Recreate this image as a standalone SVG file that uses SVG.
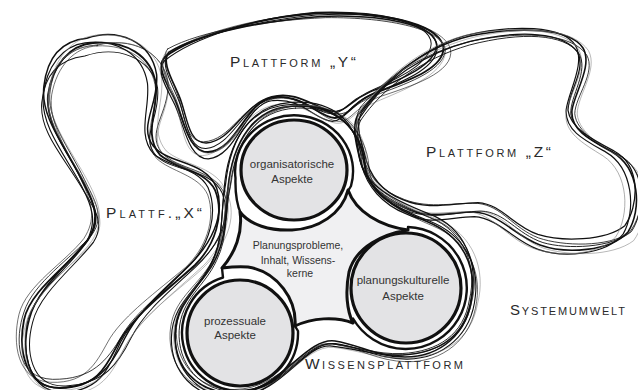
<svg xmlns="http://www.w3.org/2000/svg" xmlns:xlink="http://www.w3.org/1999/xlink" width="638" height="390" viewBox="0 0 638 390">
<style>
.sk{fill:none;stroke:#111;stroke-linecap:round;stroke-linejoin:round}
.lt{stroke:#777}
.circ{fill:#e3e3e5;stroke:#111;stroke-width:3.2}
.ring{fill:none;stroke:#111;stroke-width:2.4;stroke-linecap:round;stroke-linejoin:round}
.core{fill:#f0f0f2;stroke:#111;stroke-width:3;stroke-linejoin:round}
.lbl{font-family:"Liberation Sans",Arial,sans-serif;font-variant:small-caps;fill:#2a2a2a}
.ctx{font-family:"Liberation Sans",Arial,sans-serif;font-size:11.5px;fill:#333;text-anchor:middle}
.stx{font-family:"Liberation Sans",Arial,sans-serif;font-size:10.5px;fill:#333;text-anchor:middle}
</style>
<defs>
<path id="pX" d="M 93,43 C 125,40 152,55 156,85 C 158,110 143,135 160,155 C 175,168 205,170 215,190 C 225,215 215,245 195,265 C 165,292 135,315 120,340 C 108,362 100,388 60,388 C 25,388 18,350 24,320 C 30,290 70,265 88,240 C 100,220 95,205 85,185 C 70,155 45,125 48,95 C 52,65 70,45 93,43 Z"/>
<path id="pX2" d="M 90,46 C 122,36 155,50 160,82 C 162,112 140,132 156,152 C 172,170 208,166 219,193 C 228,220 212,248 190,268 C 160,295 138,312 124,338 C 110,365 96,384 58,385 C 22,385 20,345 28,318 C 36,288 72,262 91,238 C 104,218 92,202 82,182 C 66,150 42,122 46,92 C 50,62 66,48 90,46 Z"/>
<path id="pY" d="M 165,57 C 195,35 260,17 320,13 C 380,12 435,22 443,45 C 448,68 405,82 375,93 C 352,102 348,118 335,118 C 318,117 305,95 275,97 C 245,100 238,150 208,152 C 188,152 184,120 175,100 C 168,85 155,67 165,57 Z"/>
<path id="pY2" d="M 168,52 C 200,32 265,20 322,16 C 385,14 440,26 440,48 C 438,70 400,84 372,96 C 350,106 350,114 338,116 C 322,118 300,92 272,100 C 242,108 232,146 205,148 C 186,148 186,118 178,98 C 172,82 160,62 168,52 Z"/>
<path id="pZ" d="M 358,115 C 380,85 420,48 470,36 C 520,26 570,28 583,48 C 593,65 575,92 572,110 C 570,130 590,140 612,152 C 640,168 642,210 628,232 C 610,252 565,254 540,245 C 515,236 500,214 475,212 C 450,212 430,220 405,208 C 380,198 365,180 360,160 C 355,140 352,125 358,115 Z"/>
<path id="pZ2" d="M 362,112 C 385,80 425,52 472,40 C 525,28 566,32 580,52 C 590,70 570,95 570,113 C 572,132 596,145 616,156 C 644,172 640,214 626,234 C 606,250 562,250 538,242 C 512,232 502,210 478,208 C 452,208 428,216 402,204 C 378,194 368,176 364,156 C 358,136 356,122 362,112 Z"/>
<path id="pW" d="M 294,106 C 336,104 362,130 365,165 C 367,192 393,208 428,222 C 462,236 476,265 472,296 C 468,334 440,357 405,357 C 378,357 360,345 335,341 C 305,337 280,392 234,393 C 196,393 174,366 175,333 C 176,300 200,288 214,262 C 226,240 225,218 228,190 C 232,140 255,107 294,106 Z"/>
<path id="pW2" d="M 296,108 C 338,106 360,128 362,160 C 365,190 398,205 430,218 C 466,232 478,268 470,300 C 464,336 438,352 402,354 C 376,355 358,347 332,344 C 303,341 284,390 236,391 C 198,392 176,362 178,330 C 180,298 204,286 216,260 C 228,236 224,214 230,186 C 236,138 258,110 296,108 Z"/>
</defs>
<rect width="638" height="390" fill="#fff"/>

<g id="plattform-x">
<use xlink:href="#pX" class="sk" stroke-width="1.8"/>
<use xlink:href="#pX2" class="sk" stroke-width="0.8" transform="translate(2,-2) rotate(2,110,215) translate(110,215) scale(1.03,0.99) translate(-110,-215)"/>
<use xlink:href="#pX" class="sk" stroke-width="1.2" transform="translate(-3,1) rotate(-1.8,110,215) translate(110,215) scale(0.97,1.01) translate(-110,-215)"/>
<use xlink:href="#pX2" class="sk lt" stroke-width="0.5" transform="translate(4,3) rotate(0.8,110,215) translate(110,215) scale(1.05,1.02) translate(-110,-215)"/>
<use xlink:href="#pX2" class="sk" stroke-width="1.5" transform="translate(-1,-3) rotate(-0.8,110,215) translate(110,215) scale(0.99,1.03) translate(-110,-215)"/>
<use xlink:href="#pX" class="sk" stroke-width="0.6" transform="translate(-4,0) rotate(2.5,110,215) translate(110,215) scale(0.96,0.98) translate(-110,-215)"/>
<use xlink:href="#pX2" class="sk" stroke-width="1" transform="translate(2,4) rotate(-2.4,110,215) translate(110,215) scale(1.02,0.97) translate(-110,-215)"/>
<use xlink:href="#pX" class="sk lt" stroke-width="0.5" transform="translate(5,-1) rotate(-0.5,110,215) translate(110,215) scale(1.04,1.04) translate(-110,-215)"/>
<text class="lbl" x="106" y="218" font-size="15.5" textLength="96" lengthAdjust="spacing">Plattf.„X“</text>
</g>

<g id="plattform-y">
<use xlink:href="#pY" class="sk" stroke-width="1.8"/>
<use xlink:href="#pY2" class="sk" stroke-width="0.8" transform="translate(2,-1) rotate(1.2,300,70) translate(300,70) scale(1.02,0.96) translate(-300,-70)"/>
<use xlink:href="#pY" class="sk" stroke-width="1.2" transform="translate(-3,2) rotate(-1,300,70) translate(300,70) scale(0.98,1.04) translate(-300,-70)"/>
<use xlink:href="#pY2" class="sk lt" stroke-width="0.5" transform="translate(1,4) rotate(0.6,300,70) translate(300,70) scale(1.03,1.06) translate(-300,-70)"/>
<use xlink:href="#pY2" class="sk" stroke-width="1.5" transform="translate(-1,-2) rotate(-0.6,300,70) translate(300,70) scale(0.985,0.95) translate(-300,-70)"/>
<use xlink:href="#pY" class="sk" stroke-width="0.6" transform="translate(4,1) rotate(1.5,300,70) translate(300,70) scale(1.02,1.03) translate(-300,-70)"/>
<use xlink:href="#pY2" class="sk" stroke-width="1" transform="translate(-4,-1) rotate(-1.5,300,70) translate(300,70) scale(0.97,0.99) translate(-300,-70)"/>
<text class="lbl" x="230" y="67" font-size="15.5" textLength="126" lengthAdjust="spacing">Plattform „Y“</text>
</g>

<g id="plattform-z">
<use xlink:href="#pZ" class="sk" stroke-width="1.6"/>
<use xlink:href="#pZ2" class="sk" stroke-width="0.8" transform="translate(2,-2) rotate(1.5,500,140) translate(500,140) scale(1.03,0.97) translate(-500,-140)"/>
<use xlink:href="#pZ" class="sk" stroke-width="1.2" transform="translate(-3,2) rotate(-1.2,500,140) translate(500,140) scale(0.97,1.03) translate(-500,-140)"/>
<use xlink:href="#pZ2" class="sk lt" stroke-width="0.5" transform="translate(4,1) rotate(0.8,500,140) translate(500,140) scale(1.04,1.04) translate(-500,-140)"/>
<use xlink:href="#pZ2" class="sk" stroke-width="1.3" transform="translate(-1,-3) rotate(-0.7,500,140) translate(500,140) scale(0.99,0.96) translate(-500,-140)"/>
<use xlink:href="#pZ" class="sk lt" stroke-width="0.6" transform="translate(-4,0) rotate(2,500,140) translate(500,140) scale(0.96,1.01) translate(-500,-140)"/>
<use xlink:href="#pZ2" class="sk" stroke-width="0.9" transform="translate(1,3) rotate(-2,500,140) translate(500,140) scale(1.01,0.99) translate(-500,-140)"/>
<text class="lbl" x="426" y="157" font-size="15.5" textLength="125" lengthAdjust="spacing">Plattform „Z“</text>
</g>

<g id="wissensplattform">
<ellipse class="circ" cx="294" cy="170" rx="53" ry="50"/>
<circle class="circ" cx="240" cy="333" r="53"/>
<circle class="circ" cx="406" cy="288" r="55"/>
<path class="ring" d="M 241,214 C 237,205 235,195 235.5,178 A 59 56 0 1 1 351,186 L 348,191"/>
<path class="ring" d="M 222,268 Q 222.5,273 223,277.5 A 58 58 0 1 0 298,331 L 295,326"/>
<path class="ring" d="M 408,230 L 408,227 A 61 61 0 1 1 353,318.5 L 353,323"/>
<use xlink:href="#pW" class="sk" stroke-width="1.6"/>
<use xlink:href="#pW2" class="sk" stroke-width="0.7" transform="translate(1,-1) rotate(0.8,320,250) translate(320,250) scale(1.01,1.005) translate(-320,-250)"/>
<use xlink:href="#pW" class="sk" stroke-width="1.1" transform="translate(-1,1) rotate(-0.7,320,250) translate(320,250) scale(1.025,1.02) translate(-320,-250)"/>
<use xlink:href="#pW2" class="sk lt" stroke-width="0.5" transform="translate(2,1) rotate(0.4,320,250) translate(320,250) scale(1.04,1.025) translate(-320,-250)"/>
<use xlink:href="#pW2" class="sk" stroke-width="1.2" transform="translate(-2,-1) rotate(-1,320,250) translate(320,250) scale(1.015,1.035) translate(-320,-250)"/>
<use xlink:href="#pW" class="sk" stroke-width="0.6" transform="translate(1,2) rotate(1.1,320,250) translate(320,250) scale(1.03,1.01) translate(-320,-250)"/>
<use xlink:href="#pW2" class="sk" stroke-width="0.9" transform="translate(0,0) rotate(-0.3,320,250) translate(320,250) scale(0.995,1.0) translate(-320,-250)"/>
<text class="lbl" x="305" y="369" font-size="15.5" textLength="158" lengthAdjust="spacing">Wissensplattform</text>
</g>

<g id="organisatorische-aspekte">
<text class="ctx" x="292" y="168">organisatorische</text>
<text class="ctx" x="292" y="183">Aspekte</text>
</g>

<g id="prozessuale-aspekte">
<text class="ctx" x="235" y="325">prozessuale</text>
<text class="ctx" x="235" y="339">Aspekte</text>
</g>

<g id="planungskulturelle-aspekte">
<text class="ctx" x="403" y="284">planungskulturelle</text>
<text class="ctx" x="403" y="300">Aspekte</text>
</g>

<g id="kern">
<path class="core" d="M 240,212 C 250,225 270,231 292,230 C 318,229 342,214 348,190 C 356,212 380,226 408,230 C 384,234 356,246 349,272 C 345,292 347,311 353,323 C 335,316 312,318 295,326 C 297,300 278,272 248,267 C 238,266 230,267 222,268 C 235,253 243,233 240,212 Z"/>
<text class="stx" x="298" y="249">Planungsprobleme,</text>
<text class="stx" x="298" y="264">Inhalt, Wissens-</text>
<text class="stx" x="300" y="277">kerne</text>
</g>

<g id="systemumwelt">
<text class="lbl" x="510" y="315" font-size="15" textLength="115" lengthAdjust="spacing">Systemumwelt</text>
</g>

<g id="connectors"></g>
</svg>
